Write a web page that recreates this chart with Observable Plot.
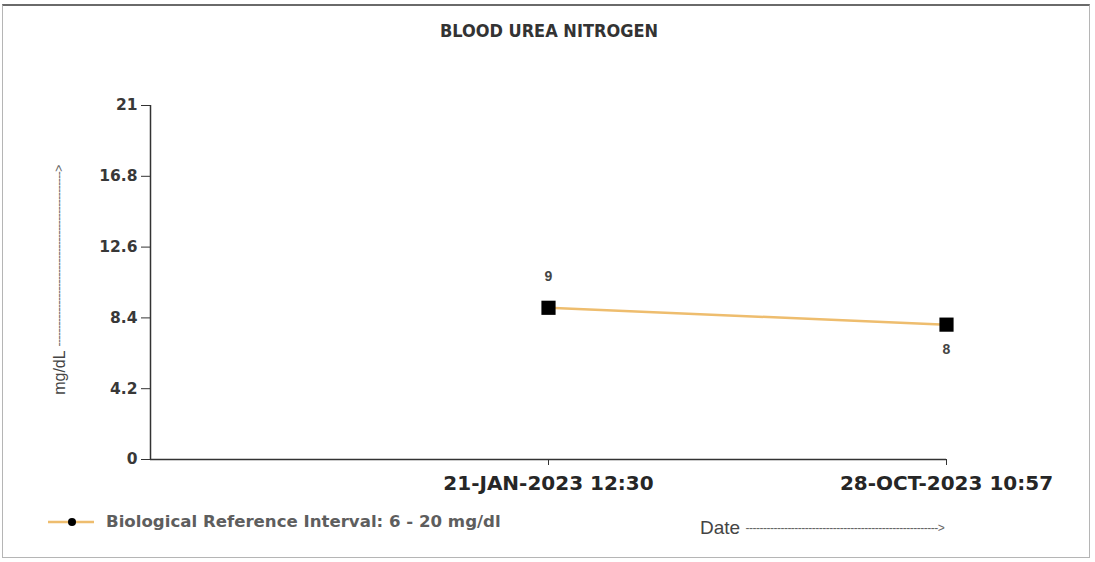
<!DOCTYPE html>
<html>
<head>
<meta charset="utf-8">
<script src="https://cdn.jsdelivr.net/npm/d3@7"></script>
<script src="https://cdn.jsdelivr.net/npm/@observablehq/plot@0.6"></script>
<style>
  html, body { margin: 0; padding: 0; background: #fff; }
  #wrap { position: relative; width: 1095px; height: 562px; overflow: hidden; background: #fff; }
  #frame { position: absolute; left: 2px; top: 4px; width: 1088px; height: 554px;
           border: 1px solid #b5b5b5; border-top: 2px solid #6a6a6a; box-sizing: border-box; }
  #chart { position: absolute; left: 0; top: 0; }
  #title { position: absolute; left: 0; width: 1098px; top: 20px; text-align: center;
           font-family: "DejaVu Sans Condensed", "DejaVu Sans"; font-stretch: condensed;
           font-weight: bold; font-size: 18px; color: #333; }
  #ylabel { position: absolute; left: 60px; top: 280px; transform: translate(-50%, -50%) rotate(-90deg);
            white-space: nowrap; font-family: "Liberation Sans", Arial, sans-serif; color: #444; font-size: 16px; }
  #xlabel { position: absolute; left: 700px; top: 517px; white-space: nowrap;
            font-family: "Liberation Sans", Arial, sans-serif; color: #444; font-size: 19px; }
  .dash { font-size: 12px; color: #666; letter-spacing: -0.5px; vertical-align: 2px; }
  #legend { position: absolute; left: 46px; top: 512px; display: flex; align-items: center;
            font-family: "DejaVu Sans", sans-serif; font-weight: bold; font-size: 16.6px; color: #5e5e5e; }
  #legend svg { margin-right: 10px; }
</style>
</head>
<body>
<div id="wrap">
  <div id="frame"></div>
  <div id="chart"></div>
  <div id="title"></div>
  <div id="ylabel"></div>
  <div id="xlabel"></div>
  <div id="legend"></div>
</div>
<script>
const title = "BLOOD UREA NITROGEN";
const dates = ["21-JAN-2023 12:30", "28-OCT-2023 10:57"];
const values = [9, 8];
const yTicks = [0, 4.2, 8.4, 12.6, 16.8, 21];
const yLabel = "mg/dL";
const xLabel = "Date";
const legendLabel = "Biological Reference Interval: 6 - 20 mg/dl";

const lineColor = "#eebd6e";
const data = dates.map((d, i) => ({date: d, value: values[i]}));

const chart = Plot.plot({
  width: 1095,
  height: 562,
  marginLeft: 150,
  marginRight: 149,
  marginTop: 105,
  marginBottom: 103,
  style: {background: "transparent", fontFamily: "'Liberation Sans', Arial, sans-serif"},
  x: {type: "point", domain: ["", ...dates], padding: 0},
  y: {domain: [0, 21]},
  marks: [
    Plot.ruleY([0], {stroke: "#333", strokeWidth: 1.5}),
    Plot.ruleX([""], {stroke: "#333", strokeWidth: 1.5}),
    Plot.axisY({ticks: yTicks, tickSize: 9, tickPadding: 4, fontSize: 15.5, fontWeight: "bold",
                fontFamily: "DejaVu Sans", fill: "#383838", stroke: "#333", label: null,
                tickFormat: d => String(d)}),
    Plot.axisX({ticks: dates, tickSize: 6, tickPadding: 10, fontSize: 20, fontWeight: "bold",
                fontFamily: "DejaVu Sans", fill: "#262626", stroke: "#333", label: null}),
    Plot.line(data, {x: "date", y: "value", stroke: lineColor, strokeWidth: 2.5}),
    Plot.dot(data, {x: "date", y: "value", symbol: "square", r: 8, fill: "#000", stroke: "none"}),
    Plot.text(data.slice(0, 1), {x: "date", y: "value", text: d => String(d.value), dy: -31,
               fontSize: 14, fontWeight: "bold", fill: "#444"}),
    Plot.text(data.slice(1), {x: "date", y: "value", text: d => String(d.value), dy: 25,
               fontSize: 14, fontWeight: "bold", fill: "#444"})
  ]
});
document.getElementById("chart").appendChild(chart);

document.getElementById("title").textContent = title;
document.getElementById("ylabel").innerHTML = yLabel + ' <span class="dash">' + "-".repeat(50) + "&gt;</span>";
document.getElementById("xlabel").innerHTML = xLabel + ' <span class="dash">' + "-".repeat(55) + "&gt;</span>";

const leg = document.getElementById("legend");
leg.innerHTML = `<svg width="50" height="14"><line x1="2" x2="48" y1="7" y2="7" stroke="${lineColor}" stroke-width="2.5"/><circle cx="26" cy="7" r="4" fill="#000"/></svg><span></span>`;
leg.querySelector("span").textContent = legendLabel;
</script>
</body>
</html>
